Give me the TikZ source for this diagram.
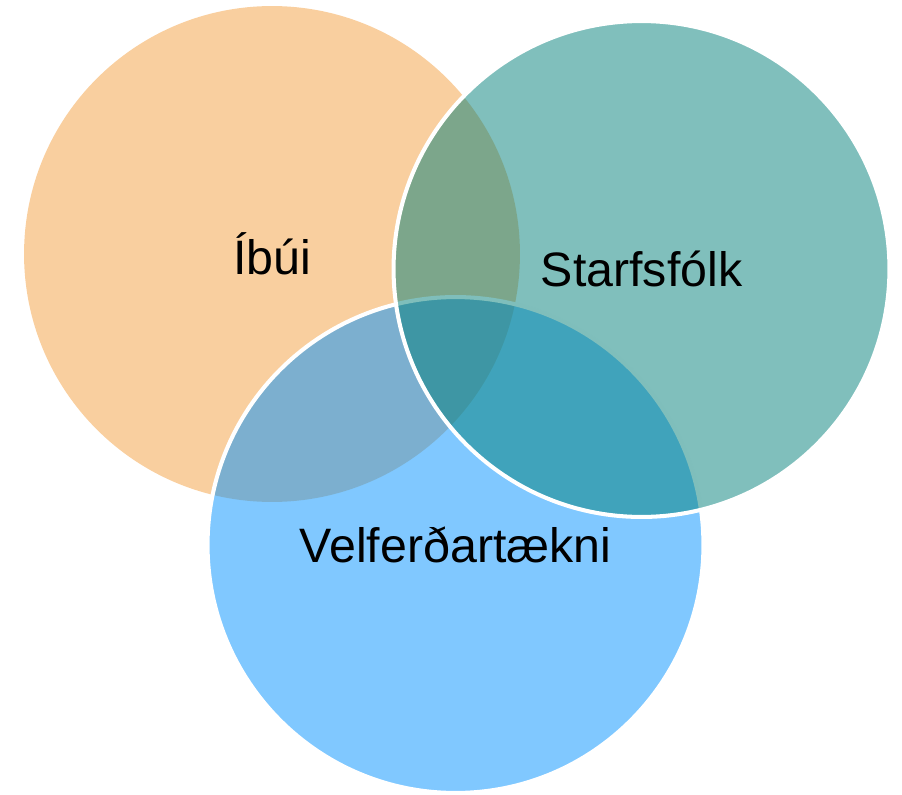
\documentclass[tikz,border=0pt]{standalone}
\usepackage{fontspec}
\setmainfont{Liberation Sans}

\definecolor{ibuicol}{RGB}{243,159,63}
\definecolor{starfcol}{RGB}{1,127,121}
\definecolor{velfcol}{RGB}{1,145,255}

\tikzset {
    venn/.style={circle, minimum size=9.92cm, inner sep=0pt, fill opacity=0.5, text opacity=1, font=\fontsize{27.5}{33}\selectfont},
    rim/.style={draw=white, line width=2.3pt},
}

\begin{document}
\begin{tikzpicture}[x=0.02cm, y=-0.02cm]
    \useasboundingbox (0, 0) rectangle (902, 794);
    \node (ibui) at (272, 254) [venn, fill=ibuicol] {Íbúi};
    \node (velf) at (455.5, 545) [venn, rim, fill=velfcol] {Velferðartækni};
    \node (starf) at (641.5, 269) [venn, rim, fill=starfcol] {Starfsfólk};
\end{tikzpicture}
\end{document}
